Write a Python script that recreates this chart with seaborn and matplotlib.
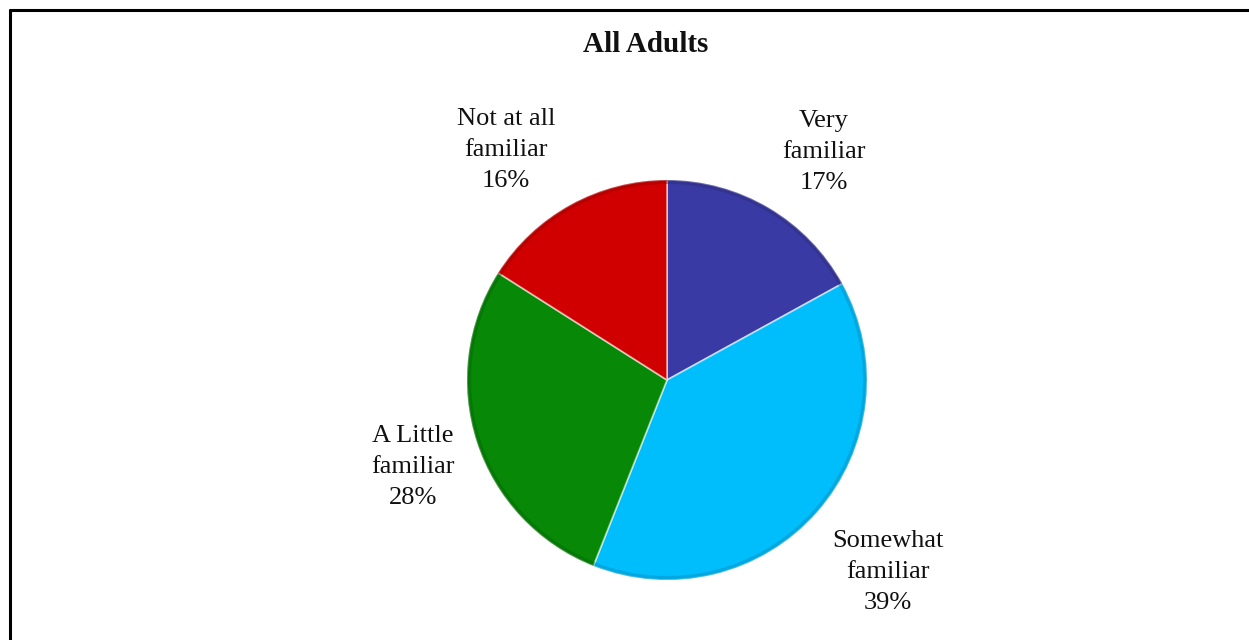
import matplotlib
matplotlib.use("Agg")
import matplotlib.pyplot as plt
import seaborn as sns
from matplotlib.colors import to_rgb
from matplotlib.lines import Line2D

# data
categories = ["Very\nfamiliar", "Somewhat\nfamiliar", "A Little\nfamiliar", "Not at all\nfamiliar"]
shares = [17, 39, 28, 16]
colors = ["#3A3AA5", "#00BEFC", "#078807", "#D00000"]
title = "All Adults"

sns.set_theme(style="white")
plt.rcParams["font.family"] = ["Liberation Serif", "DejaVu Serif"]

W, H = 1249, 640
fig = plt.figure(figsize=(W / 100, H / 100), dpi=100)

# pie centre (667, 380) px from top-left, radius 200 px
cx, cy, r = 667, 380, 200
half_w, half_h = 400, 250
ax = fig.add_axes([(cx - half_w) / W, (H - cy - half_h) / H, 2 * half_w / W, 2 * half_h / H])

ax.pie(
    shares,
    colors=colors,
    startangle=90,
    counterclock=False,
    radius=1.0,
    wedgeprops=dict(edgecolor=(1, 1, 1, 0.55), linewidth=1.3),
)
# darker rim for a little bevel look
dark = [tuple(c * 0.75 for c in to_rgb(col)) for col in colors]
ax.pie(
    shares,
    colors=dark,
    startangle=90,
    counterclock=False,
    radius=1.0,
    wedgeprops=dict(width=0.02, edgecolor="none", alpha=0.45),
)
ax.set_xlim(-half_w / r, half_w / r)
ax.set_ylim(-half_h / r, half_h / r)
ax.set_aspect("equal")
ax.axis("off")

# label anchor points in pixels (layout only)
label_px = [(824, 152), (888, 572), (413, 467), (506, 150)]
for cat, val, (px, py) in zip(categories, shares, label_px):
    ax.text((px - cx) / r, (cy - py) / r, f"{cat}\n{val}%",
            ha="center", va="center", multialignment="center",
            fontsize=19, linespacing=1.55, color="#111111", clip_on=False)

fig.text(646 / W, 1 - 45 / H, title, ha="center", va="center",
         fontsize=21, fontweight="bold", color="#111111")

# frame border (only top & left visible in the crop)
fig.add_artist(Line2D([9.5 / W, 9.5 / W], [0, 1 - 9.5 / H], transform=fig.transFigure,
                      color="black", lw=2.2))
fig.add_artist(Line2D([9.5 / W, 1], [1 - 9.5 / H, 1 - 9.5 / H], transform=fig.transFigure,
                      color="black", lw=2.2))

fig.savefig("out.png", dpi=100)
